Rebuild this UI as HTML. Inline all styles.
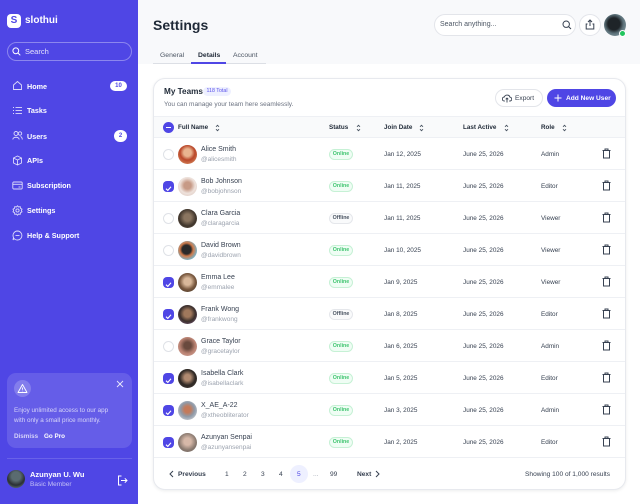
<!DOCTYPE html>
<html><head><meta charset="utf-8">
<style>
*{box-sizing:border-box;margin:0;padding:0}
body{width:640px;height:504px;overflow:hidden;font-family:"Liberation Sans",sans-serif;background:#fff;position:relative}
.a{position:absolute;white-space:nowrap}
#sb{position:absolute;left:0;top:0;width:138px;height:504px;background:#4f46e5}
.nav{position:absolute;left:27px;font-size:7.2px;font-weight:bold;color:#fff;line-height:10px}
.ni{position:absolute;left:12px;width:11px;height:11px}
#hdr{position:absolute;left:138px;top:0;width:502px;height:64px;background:#f8f9fb}
.card{position:absolute;left:153px;top:78px;width:473px;height:412px;border:1px solid #e7e9ee;border-radius:12px;background:#fff;box-shadow:0 1px 3px rgba(16,24,40,.08);overflow:hidden}
.th{font-size:6.3px;font-weight:bold;color:#1f2937;line-height:10px}
.row{position:absolute;left:0;width:473px;height:32px;border-bottom:1px solid #eef0f4}
.nm{position:absolute;left:47px;top:7px;font-size:7px;color:#374151;line-height:10px;white-space:nowrap}
.hd{position:absolute;left:47px;top:17px;font-size:6.5px;color:#9ca3af;line-height:10px;white-space:nowrap}
.av{position:absolute;left:24px;top:7px;width:19px;height:19px;border-radius:50%}
.cb{position:absolute;left:9px;top:11px;width:11px;height:11px;border-radius:4px}
.cb.u{border:1px solid #dfe2e7;background:#fff;border-radius:50%}
.cb.c{background:#4f46e5}
.pill{position:absolute;left:175px;top:11px;height:11px;width:24px;border-radius:6px;font-size:5.3px;font-weight:bold;line-height:9px;text-align:center}
.on{background:#effdf4;border:1px solid #c6f1d5;color:#3fc46f}
.off{background:#f9fafb;border:1px solid #e5e7eb;color:#4b5563}
.td{position:absolute;top:11.5px;font-size:6.4px;color:#374151;line-height:10px;white-space:nowrap}
.tr{position:absolute;left:448px;top:10px}
.pg{position:absolute;top:470px;font-size:6.6px;color:#374151;line-height:10px}
</style></head><body>
<div id="sb">
  <div class="a" style="left:7px;top:14px;width:14px;height:14px;background:#fff;border-radius:4px;color:#4f46e5;font-weight:bold;font-size:10px;line-height:14px;text-align:center">S</div>
  <div class="a" style="left:25px;top:15px;font-size:10px;font-weight:bold;color:#fff;line-height:12px">slothui</div>
  <div class="a" style="left:7px;top:42px;width:125px;height:19px;border:1px solid rgba(255,255,255,.35);border-radius:10px"></div>
  <svg class="a" style="left:12px;top:47px" width="9" height="9" viewBox="0 0 9 9"><circle cx="3.8" cy="3.8" r="2.9" fill="none" stroke="#fff" stroke-width="1"/><line x1="6" y1="6" x2="8.3" y2="8.3" stroke="#fff" stroke-width="1"/></svg>
  <div class="a" style="left:25px;top:47px;font-size:7.5px;color:rgba(255,255,255,.85);line-height:10px">Search</div>

  <svg class="ni" style="top:80px" viewBox="0 0 11 11"><path d="M1.5 5 L5.5 1.5 L9.5 5 V9.5 H1.5Z" fill="none" stroke="rgba(255,255,255,.8)" stroke-width="0.9"/></svg>
  <div class="nav" style="top:81.5px">Home</div>
  <div class="a" style="left:110px;top:81px;width:17px;height:10px;border-radius:5px;background:#fff;color:#4f46e5;font-size:6px;font-weight:bold;line-height:10px;text-align:center">10</div>

  <svg class="ni" style="top:105px" viewBox="0 0 11 11"><g stroke="rgba(255,255,255,.8)" stroke-width="0.9"><line x1="1" y1="2.5" x2="2" y2="2.5"/><line x1="3.5" y1="2.5" x2="10" y2="2.5"/><line x1="1" y1="5.5" x2="2" y2="5.5"/><line x1="3.5" y1="5.5" x2="10" y2="5.5"/><line x1="1" y1="8.5" x2="2" y2="8.5"/><line x1="3.5" y1="8.5" x2="10" y2="8.5"/></g></svg>
  <div class="nav" style="top:105.5px">Tasks</div>

  <svg class="ni" style="top:130px" viewBox="0 0 11 11"><g fill="none" stroke="rgba(255,255,255,.8)" stroke-width="0.9"><circle cx="4" cy="3.5" r="2"/><path d="M0.8 9.5 C1 6.5 7 6.5 7.2 9.5"/><circle cx="8" cy="3.5" r="1.7"/><path d="M8.5 6.5 C9.5 6.8 10.2 7.8 10.3 9.5"/></g></svg>
  <div class="nav" style="top:131.5px">Users</div>
  <div class="a" style="left:114px;top:130px;width:13px;height:12px;border-radius:6px;background:#fff;color:#4f46e5;font-size:6px;font-weight:bold;line-height:12px;text-align:center">2</div>

  <svg class="ni" style="top:155px" viewBox="0 0 11 11"><g fill="none" stroke="rgba(255,255,255,.8)" stroke-width="0.9"><path d="M5.5 1 L9.5 3 V8 L5.5 10 L1.5 8 V3Z"/><path d="M1.5 3 L5.5 5 L9.5 3 M5.5 5 V10"/></g></svg>
  <div class="nav" style="top:155.5px">APIs</div>

  <svg class="ni" style="top:180px" viewBox="0 0 11 11"><g fill="none" stroke="rgba(255,255,255,.8)" stroke-width="0.9"><rect x="0.8" y="2" width="9.4" height="7" rx="1"/><line x1="0.8" y1="4.3" x2="10.2" y2="4.3"/><line x1="6.5" y1="7" x2="8.5" y2="7"/></g></svg>
  <div class="nav" style="top:180.5px">Subscription</div>

  <svg class="ni" style="top:205px" viewBox="0 0 11 11"><g fill="none" stroke="rgba(255,255,255,.8)" stroke-width="0.9"><circle cx="5.5" cy="5.5" r="1.6"/><path d="M5.5 0.8 L6.6 2 L8.2 1.7 L8.5 3.3 L10 4.2 L9.3 5.5 L10 6.8 L8.5 7.7 L8.2 9.3 L6.6 9 L5.5 10.2 L4.4 9 L2.8 9.3 L2.5 7.7 L1 6.8 L1.7 5.5 L1 4.2 L2.5 3.3 L2.8 1.7 L4.4 2Z"/></g></svg>
  <div class="nav" style="top:205.5px">Settings</div>

  <svg class="ni" style="top:230px" viewBox="0 0 11 11"><g fill="none" stroke="rgba(255,255,255,.8)" stroke-width="0.9"><path d="M5.5 1 A4.5 4.5 0 1 1 2 8.5 L1 10 L1.5 7.5 A4.5 4.5 0 0 1 5.5 1Z"/><line x1="3.5" y1="5.5" x2="7.5" y2="5.5"/></g></svg>
  <div class="nav" style="top:230.5px">Help &amp; Support</div>

  <div class="a" style="left:7px;top:373px;width:125px;height:75px;background:rgba(255,255,255,.13);border-radius:9px"></div>
  <div class="a" style="left:14px;top:380px;width:17px;height:17px;border-radius:50%;background:rgba(255,255,255,.2)"></div>
  <svg class="a" style="left:17px;top:383px" width="11" height="11" viewBox="0 0 11 11"><g fill="none" stroke="#fff" stroke-width="0.9"><path d="M5.5 1.5 L10 9.5 H1Z" stroke-linejoin="round"/><line x1="5.5" y1="4.5" x2="5.5" y2="6.8"/><line x1="5.5" y1="7.8" x2="5.5" y2="8.3"/></g></svg>
  <svg class="a" style="left:116px;top:380px" width="8" height="8" viewBox="0 0 8 8"><g stroke="rgba(255,255,255,.85)" stroke-width="0.9"><line x1="1" y1="1" x2="7" y2="7"/><line x1="7" y1="1" x2="1" y2="7"/></g></svg>
  <div class="a" style="left:14px;top:406px;font-size:6.3px;color:rgba(255,255,255,.72);line-height:10px">Enjoy unlimited access to our app</div>
  <div class="a" style="left:14px;top:416px;font-size:6.3px;color:rgba(255,255,255,.72);line-height:10px">with only a small price monthly.</div>
  <div class="a" style="left:14px;top:432px;font-size:6.3px;font-weight:bold;color:rgba(255,255,255,.72);line-height:10px">Dismiss</div>
  <div class="a" style="left:44px;top:432px;font-size:6.3px;font-weight:bold;color:#fff;line-height:10px">Go Pro</div>
  <div class="a" style="left:7px;top:458px;width:125px;height:1px;background:rgba(255,255,255,.15)"></div>
  <div class="a" style="left:7px;top:470px;width:18px;height:18px;border-radius:50%;background:radial-gradient(circle at 50% 35%,#5a6b70 0 30%,#2a2f33 60%,#7d9aa0 100%)"></div>
  <div class="a" style="left:30px;top:470px;font-size:7.5px;font-weight:bold;color:#fff;line-height:10px">Azunyan U. Wu</div>
  <div class="a" style="left:30px;top:480px;font-size:6.5px;color:rgba(255,255,255,.65);line-height:10px">Basic Member</div>
  <svg class="a" style="left:117px;top:475px" width="11" height="11" viewBox="0 0 11 11"><g fill="none" stroke="#fff" stroke-width="1"><path d="M4.5 1 H1.5 V10 H4.5"/><line x1="4" y1="5.5" x2="10" y2="5.5"/><path d="M7.8 3.3 L10 5.5 L7.8 7.7"/></g></svg>
</div>

<div id="hdr"></div>
<div class="a" style="left:153px;top:16px;font-size:14px;font-weight:bold;color:#1f2937;line-height:18px">Settings</div>
<div class="a" style="left:434px;top:14px;width:142px;height:22px;border:1px solid #e3e5ea;border-radius:11px;background:#fff"></div>
<div class="a" style="left:440px;top:20px;font-size:7px;color:#4b5563;line-height:10px">Search anything...</div>
<svg class="a" style="left:562px;top:20px" width="10" height="10" viewBox="0 0 10 10"><circle cx="4.2" cy="4.2" r="3.2" fill="none" stroke="#374151" stroke-width="1"/><line x1="6.6" y1="6.6" x2="9" y2="9" stroke="#374151" stroke-width="1"/></svg>
<div class="a" style="left:579px;top:14px;width:22px;height:22px;border:1px solid #e3e5ea;border-radius:50%;background:#fff"></div>
<svg class="a" style="left:585px;top:19px" width="10" height="11" viewBox="0 0 10 11"><g fill="none" stroke="#374151" stroke-width="1"><path d="M2.5 5 H1.2 V10 H8.8 V5 H7.5"/><line x1="5" y1="1" x2="5" y2="7"/><path d="M3 3 L5 1 L7 3"/></g></svg>
<div class="a" style="left:604px;top:14px;width:22px;height:22px;border-radius:50%;background:radial-gradient(circle at 45% 45%,#1e2428 0 35%,#5b7078 55%,#9fb6bd 100%)"></div>
<div class="a" style="left:619px;top:30px;width:7px;height:7px;border-radius:50%;background:#22c55e;border:1px solid #fff"></div>

<div class="a" style="left:160px;top:51px;font-size:6.8px;color:#4b5563;line-height:10px">General</div>
<div class="a" style="left:198px;top:51px;font-size:6.8px;font-weight:bold;color:#1f2937;line-height:10px">Details</div>
<div class="a" style="left:233px;top:51px;font-size:6.8px;color:#4b5563;line-height:10px">Account</div>
<div class="a" style="left:153px;top:63px;width:113px;height:1px;background:#dcdfe5"></div>
<div class="a" style="left:191px;top:62px;width:35px;height:2px;background:#4f46e5"></div>

<div class="card">
  <div class="a" style="left:10px;top:7px;font-size:8.2px;font-weight:bold;color:#1f2937;line-height:12px">My Teams</div>
  <div class="a" style="left:49px;top:8px;width:28px;height:9px;border-radius:5px;background:#eef0ff;color:#5b52ea;font-size:5.3px;line-height:9px;text-align:center">118 Total</div>
  <div class="a" style="left:10px;top:21px;font-size:6.5px;color:#6b7280;line-height:10px">You can manage your team here seamlessly.</div>
  <div class="a" style="left:341px;top:10px;width:48px;height:18px;border:1px solid #e3e5ea;border-radius:9px;background:#fff"></div>
  <svg class="a" style="left:348px;top:15px" width="10" height="9" viewBox="0 0 10 9"><g fill="none" stroke="#374151" stroke-width="0.9"><path d="M2.8 7 H2.3 A2 2 0 0 1 2.3 3 A3 3 0 0 1 8 3.2 A1.9 1.9 0 0 1 7.8 7 H7.2"/><line x1="5" y1="4" x2="5" y2="8.5"/><path d="M3.7 5.3 L5 4 L6.3 5.3"/></g></svg>
  <div class="a" style="left:361px;top:14.5px;font-size:6.6px;color:#374151;line-height:10px">Export</div>
  <div class="a" style="left:393px;top:10px;width:69px;height:18px;border-radius:9px;background:#4f46e5"></div>
  <svg class="a" style="left:400px;top:15px" width="8" height="8" viewBox="0 0 8 8"><g stroke="#fff" stroke-width="1"><line x1="4" y1="0.5" x2="4" y2="7.5"/><line x1="0.5" y1="4" x2="7.5" y2="4"/></g></svg>
  <div class="a" style="left:412px;top:14.5px;font-size:6.6px;font-weight:bold;color:#fff;line-height:10px">Add New User</div>

  <div class="a" style="left:0;top:37px;width:473px;height:22px;background:#f9fafb;border-top:1px solid #eef0f4;border-bottom:1px solid #eef0f4"></div>
  <div class="a" style="left:9px;top:43px;width:11px;height:11px;border-radius:50%;background:#4f46e5"></div>
  <div class="a" style="left:12px;top:48px;width:5px;height:1px;background:#fff"></div>
  <div class="a th" style="left:24px;top:44px">Full Name</div>
  <div class="a th" style="left:175px;top:44px">Status</div>
  <div class="a th" style="left:230px;top:44px">Join Date</div>
  <div class="a th" style="left:309px;top:44px">Last Active</div>
  <div class="a th" style="left:387px;top:44px">Role</div>
  <svg class="a" style="left:61px;top:45px" width="5" height="8" viewBox="0 0 5 8"><g fill="none" stroke="#4b5563" stroke-width="0.9"><path d="M1 2.8 L2.5 1.3 L4 2.8"/><path d="M1 5.2 L2.5 6.7 L4 5.2"/></g></svg>
  <svg class="a" style="left:202px;top:45px" width="5" height="8" viewBox="0 0 5 8"><g fill="none" stroke="#4b5563" stroke-width="0.9"><path d="M1 2.8 L2.5 1.3 L4 2.8"/><path d="M1 5.2 L2.5 6.7 L4 5.2"/></g></svg>
  <svg class="a" style="left:265px;top:45px" width="5" height="8" viewBox="0 0 5 8"><g fill="none" stroke="#4b5563" stroke-width="0.9"><path d="M1 2.8 L2.5 1.3 L4 2.8"/><path d="M1 5.2 L2.5 6.7 L4 5.2"/></g></svg>
  <svg class="a" style="left:350px;top:45px" width="5" height="8" viewBox="0 0 5 8"><g fill="none" stroke="#4b5563" stroke-width="0.9"><path d="M1 2.8 L2.5 1.3 L4 2.8"/><path d="M1 5.2 L2.5 6.7 L4 5.2"/></g></svg>
  <svg class="a" style="left:408px;top:45px" width="5" height="8" viewBox="0 0 5 8"><g fill="none" stroke="#4b5563" stroke-width="0.9"><path d="M1 2.8 L2.5 1.3 L4 2.8"/><path d="M1 5.2 L2.5 6.7 L4 5.2"/></g></svg>

  <div class="row" style="top:59px"><div class="cb u"></div><div class="av" style="background:radial-gradient(circle at 50% 40%,#e9b48f 0 25%,#b9472a 50%,#e0a070 100%)"></div><div class="nm">Alice Smith</div><div class="hd">@alicesmith</div><div class="pill on">Online</div><div class="td" style="left:230px">Jan 12, 2025</div><div class="td" style="left:309px">June 25, 2026</div><div class="td" style="left:387px">Admin</div><svg class="tr" width="9" height="11" viewBox="0 0 9 11"><g fill="none" stroke="#374151" stroke-width="1"><line x1="0.5" y1="2.5" x2="8.5" y2="2.5"/><path d="M3 2.5 V1 H6 V2.5"/><path d="M1.5 2.5 V10 H7.5 V2.5"/></g></svg></div>
  <div class="row" style="top:91px"><div class="cb c"><svg width="11" height="11" viewBox="0 0 11 11"><path d="M3 5.7 L4.8 7.4 L8 3.8" fill="none" stroke="#fff" stroke-width="1.1"/></svg></div><div class="av" style="background:radial-gradient(circle at 50% 45%,#c79a86 0 25%,#eee2dc 55%,#d8c1b8 100%)"></div><div class="nm">Bob Johnson</div><div class="hd">@bobjohnson</div><div class="pill on">Online</div><div class="td" style="left:230px">Jan 11, 2025</div><div class="td" style="left:309px">June 25, 2026</div><div class="td" style="left:387px">Editor</div><svg class="tr" width="9" height="11" viewBox="0 0 9 11"><g fill="none" stroke="#374151" stroke-width="1"><line x1="0.5" y1="2.5" x2="8.5" y2="2.5"/><path d="M3 2.5 V1 H6 V2.5"/><path d="M1.5 2.5 V10 H7.5 V2.5"/></g></svg></div>
  <div class="row" style="top:123px"><div class="cb u"></div><div class="av" style="background:radial-gradient(circle at 50% 45%,#8a7560 0 25%,#3f352c 60%,#6d5d4c 100%)"></div><div class="nm">Clara Garcia</div><div class="hd">@claragarcia</div><div class="pill off">Offline</div><div class="td" style="left:230px">Jan 11, 2025</div><div class="td" style="left:309px">June 25, 2026</div><div class="td" style="left:387px">Viewer</div><svg class="tr" width="9" height="11" viewBox="0 0 9 11"><g fill="none" stroke="#374151" stroke-width="1"><line x1="0.5" y1="2.5" x2="8.5" y2="2.5"/><path d="M3 2.5 V1 H6 V2.5"/><path d="M1.5 2.5 V10 H7.5 V2.5"/></g></svg></div>
  <div class="row" style="top:155px"><div class="cb u"></div><div class="av" style="background:radial-gradient(circle at 45% 45%,#2a2a2a 0 30%,#d07a4a 45%,#7fb0c0 70%)"></div><div class="nm">David Brown</div><div class="hd">@davidbrown</div><div class="pill on">Online</div><div class="td" style="left:230px">Jan 10, 2025</div><div class="td" style="left:309px">June 25, 2026</div><div class="td" style="left:387px">Viewer</div><svg class="tr" width="9" height="11" viewBox="0 0 9 11"><g fill="none" stroke="#374151" stroke-width="1"><line x1="0.5" y1="2.5" x2="8.5" y2="2.5"/><path d="M3 2.5 V1 H6 V2.5"/><path d="M1.5 2.5 V10 H7.5 V2.5"/></g></svg></div>
  <div class="row" style="top:187px"><div class="cb c"><svg width="11" height="11" viewBox="0 0 11 11"><path d="M3 5.7 L4.8 7.4 L8 3.8" fill="none" stroke="#fff" stroke-width="1.1"/></svg></div><div class="av" style="background:radial-gradient(circle at 50% 45%,#d9b89a 0 25%,#7a5a40 55%,#3a2c22 100%)"></div><div class="nm">Emma Lee</div><div class="hd">@emmalee</div><div class="pill on">Online</div><div class="td" style="left:230px">Jan 9, 2025</div><div class="td" style="left:309px">June 25, 2026</div><div class="td" style="left:387px">Viewer</div><svg class="tr" width="9" height="11" viewBox="0 0 9 11"><g fill="none" stroke="#374151" stroke-width="1"><line x1="0.5" y1="2.5" x2="8.5" y2="2.5"/><path d="M3 2.5 V1 H6 V2.5"/><path d="M1.5 2.5 V10 H7.5 V2.5"/></g></svg></div>
  <div class="row" style="top:219px"><div class="cb c"><svg width="11" height="11" viewBox="0 0 11 11"><path d="M3 5.7 L4.8 7.4 L8 3.8" fill="none" stroke="#fff" stroke-width="1.1"/></svg></div><div class="av" style="background:radial-gradient(circle at 50% 45%,#a0785c 0 25%,#3c302c 55%,#7a5a86 100%)"></div><div class="nm">Frank Wong</div><div class="hd">@frankwong</div><div class="pill off">Offline</div><div class="td" style="left:230px">Jan 8, 2025</div><div class="td" style="left:309px">June 25, 2026</div><div class="td" style="left:387px">Editor</div><svg class="tr" width="9" height="11" viewBox="0 0 9 11"><g fill="none" stroke="#374151" stroke-width="1"><line x1="0.5" y1="2.5" x2="8.5" y2="2.5"/><path d="M3 2.5 V1 H6 V2.5"/><path d="M1.5 2.5 V10 H7.5 V2.5"/></g></svg></div>
  <div class="row" style="top:251px"><div class="cb u"></div><div class="av" style="background:radial-gradient(circle at 50% 45%,#6a4a3e 0 25%,#b98272 55%,#d8a9a0 100%)"></div><div class="nm">Grace Taylor</div><div class="hd">@gracetaylor</div><div class="pill on">Online</div><div class="td" style="left:230px">Jan 6, 2025</div><div class="td" style="left:309px">June 25, 2026</div><div class="td" style="left:387px">Admin</div><svg class="tr" width="9" height="11" viewBox="0 0 9 11"><g fill="none" stroke="#374151" stroke-width="1"><line x1="0.5" y1="2.5" x2="8.5" y2="2.5"/><path d="M3 2.5 V1 H6 V2.5"/><path d="M1.5 2.5 V10 H7.5 V2.5"/></g></svg></div>
  <div class="row" style="top:283px"><div class="cb c"><svg width="11" height="11" viewBox="0 0 11 11"><path d="M3 5.7 L4.8 7.4 L8 3.8" fill="none" stroke="#fff" stroke-width="1.1"/></svg></div><div class="av" style="background:radial-gradient(circle at 50% 45%,#b08a70 0 22%,#2e2824 55%,#4a403a 100%)"></div><div class="nm">Isabella Clark</div><div class="hd">@isabellaclark</div><div class="pill on">Online</div><div class="td" style="left:230px">Jan 5, 2025</div><div class="td" style="left:309px">June 25, 2026</div><div class="td" style="left:387px">Editor</div><svg class="tr" width="9" height="11" viewBox="0 0 9 11"><g fill="none" stroke="#374151" stroke-width="1"><line x1="0.5" y1="2.5" x2="8.5" y2="2.5"/><path d="M3 2.5 V1 H6 V2.5"/><path d="M1.5 2.5 V10 H7.5 V2.5"/></g></svg></div>
  <div class="row" style="top:315px"><div class="cb c"><svg width="11" height="11" viewBox="0 0 11 11"><path d="M3 5.7 L4.8 7.4 L8 3.8" fill="none" stroke="#fff" stroke-width="1.1"/></svg></div><div class="av" style="background:radial-gradient(circle at 50% 45%,#c47a5a 0 22%,#8f9aa8 50%,#e6e4e6 100%)"></div><div class="nm">X_AE_A-22</div><div class="hd">@xtheobliterator</div><div class="pill on">Online</div><div class="td" style="left:230px">Jan 3, 2025</div><div class="td" style="left:309px">June 25, 2026</div><div class="td" style="left:387px">Admin</div><svg class="tr" width="9" height="11" viewBox="0 0 9 11"><g fill="none" stroke="#374151" stroke-width="1"><line x1="0.5" y1="2.5" x2="8.5" y2="2.5"/><path d="M3 2.5 V1 H6 V2.5"/><path d="M1.5 2.5 V10 H7.5 V2.5"/></g></svg></div>
  <div class="row" style="top:347px"><div class="cb c"><svg width="11" height="11" viewBox="0 0 11 11"><path d="M3 5.7 L4.8 7.4 L8 3.8" fill="none" stroke="#fff" stroke-width="1.1"/></svg></div><div class="av" style="background:radial-gradient(circle at 50% 45%,#d6b8a8 0 25%,#8a7a70 60%,#6a625e 100%)"></div><div class="nm">Azunyan Senpai</div><div class="hd">@azunyansenpai</div><div class="pill on">Online</div><div class="td" style="left:230px">Jan 2, 2025</div><div class="td" style="left:309px">June 25, 2026</div><div class="td" style="left:387px">Editor</div><svg class="tr" width="9" height="11" viewBox="0 0 9 11"><g fill="none" stroke="#374151" stroke-width="1"><line x1="0.5" y1="2.5" x2="8.5" y2="2.5"/><path d="M3 2.5 V1 H6 V2.5"/><path d="M1.5 2.5 V10 H7.5 V2.5"/></g></svg></div>
</div>

<svg class="a" style="left:169px;top:470px" width="5" height="8" viewBox="0 0 5 8"><path d="M4 1 L1 4 L4 7" fill="none" stroke="#374151" stroke-width="1"/></svg>
<div class="pg" style="left:178px;font-weight:bold">Previous</div>
<div class="pg" style="left:225px">1</div>
<div class="pg" style="left:243px">2</div>
<div class="pg" style="left:261px">3</div>
<div class="pg" style="left:279px">4</div>
<div class="a" style="left:290px;top:465px;width:18px;height:18px;border-radius:50%;background:#eef0ff"></div>
<div class="pg" style="left:297px;color:#4f46e5">5</div>
<div class="pg" style="left:313px;color:#9ca3af">...</div>
<div class="pg" style="left:330px">99</div>
<div class="pg" style="left:357px;font-weight:bold">Next</div>
<svg class="a" style="left:375px;top:470px" width="5" height="8" viewBox="0 0 5 8"><path d="M1 1 L4 4 L1 7" fill="none" stroke="#374151" stroke-width="1"/></svg>
<div class="pg" style="left:525px">Showing 100 of 1,000 results</div>
</body></html>
